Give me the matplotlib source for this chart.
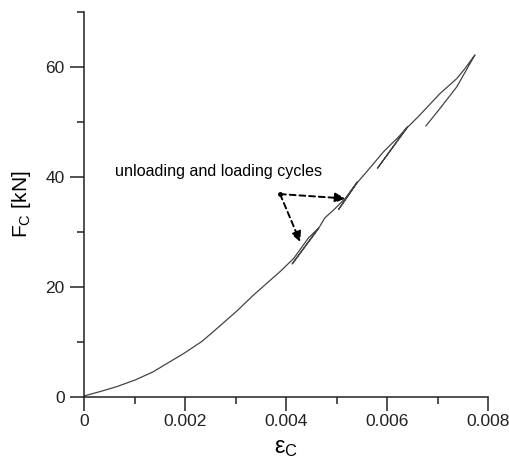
import numpy as np
import matplotlib
matplotlib.use('Agg')
import matplotlib.pyplot as plt

plt.rcParams['font.family'] = ['Liberation Sans', 'DejaVu Sans']
plt.rcParams['mathtext.fontset'] = 'custom'
plt.rcParams['mathtext.rm'] = 'Liberation Sans'
plt.rcParams['mathtext.it'] = 'Liberation Sans:italic'

# strain / force path incl. the unloading-reloading cycles
eps = [0.0, 0.00032, 0.00065, 0.00101, 0.00137, 0.00164, 0.00197, 0.00233,
       0.00256, 0.00302, 0.00335, 0.00362, 0.00388, 0.00415, 0.00444, 0.00464,
       0.00412, 0.00464,
       0.00471, 0.00477, 0.00494, 0.00517, 0.00541,
       0.00504, 0.00541,
       0.00560, 0.00593, 0.00626, 0.00640,
       0.00581, 0.00640,
       0.00662, 0.00705, 0.00738, 0.00754, 0.00774,
       0.00764, 0.00738, 0.00705, 0.00677]
force = [0.2, 1.0, 1.9, 3.1, 4.6, 6.1, 7.9, 10.1,
         11.9, 15.6, 18.5, 20.7, 22.8, 25.2, 28.9, 30.7,
         24.2, 30.6,
         31.7, 32.6, 34.0, 36.1, 39.1,
         34.1, 39.0,
         41.0, 44.6, 47.6, 49.1,
         41.6, 49.0,
         51.0, 55.2, 57.9, 59.7, 62.2,
         60.6, 56.4, 52.5, 49.3]

note_text = 'unloading and loading cycles'
note_xy = (0.00061, 41.0)
arrow_start = (0.00388, 36.9)
arrow_tips = [(0.00517, 36.1), (0.00428, 28.2)]

fig = plt.figure(figsize=(5.1, 4.63), dpi=100)
ax = fig.add_axes([0.165, 0.1425, 0.792, 0.8315])

ax.plot(eps, force, color='#444444', lw=0.9)

ax.text(note_xy[0], note_xy[1], note_text, fontsize=11.6, va='center', ha='left')
for tip in arrow_tips:
    ax.annotate('', xy=tip, xytext=arrow_start,
                arrowprops=dict(arrowstyle='-|>,head_length=0.6,head_width=0.3',
                                linestyle=(0, (3, 2)), lw=1.4, color='black',
                                shrinkA=0, shrinkB=0))
ax.plot(*arrow_start, marker='o', ms=2.5, color='black')

ax.set_xlim(0, 0.008)
ax.set_ylim(0, 70)
ax.set_xticks([0, 0.002, 0.004, 0.006, 0.008])
ax.set_xticklabels(['0', '0.002', '0.004', '0.006', '0.008'])
ax.set_xticks([0.001, 0.003, 0.005, 0.007], minor=True)
ax.set_yticks([0, 20, 40, 60])
ax.set_yticks([10, 30, 50, 70], minor=True)

for s in ['top', 'right']:
    ax.spines[s].set_visible(False)
for s in ['left', 'bottom']:
    ax.spines[s].set_linewidth(1.1)
    ax.spines[s].set_color('#222222')
ax.tick_params(which='major', direction='out', length=10, width=1.1,
               labelsize=12.5, colors='#222222')
ax.tick_params(which='minor', direction='out', length=5, width=1.1, colors='#222222')
ax.tick_params(axis='y', pad=4)
ax.tick_params(axis='x', pad=2)

ax.set_ylabel(r'F$_\mathrm{C}$ [kN]', fontsize=15, labelpad=9)
ax.set_xlabel(r'ε$_\mathrm{C}$', fontsize=17, labelpad=6)

fig.savefig('out.png', dpi=100)
